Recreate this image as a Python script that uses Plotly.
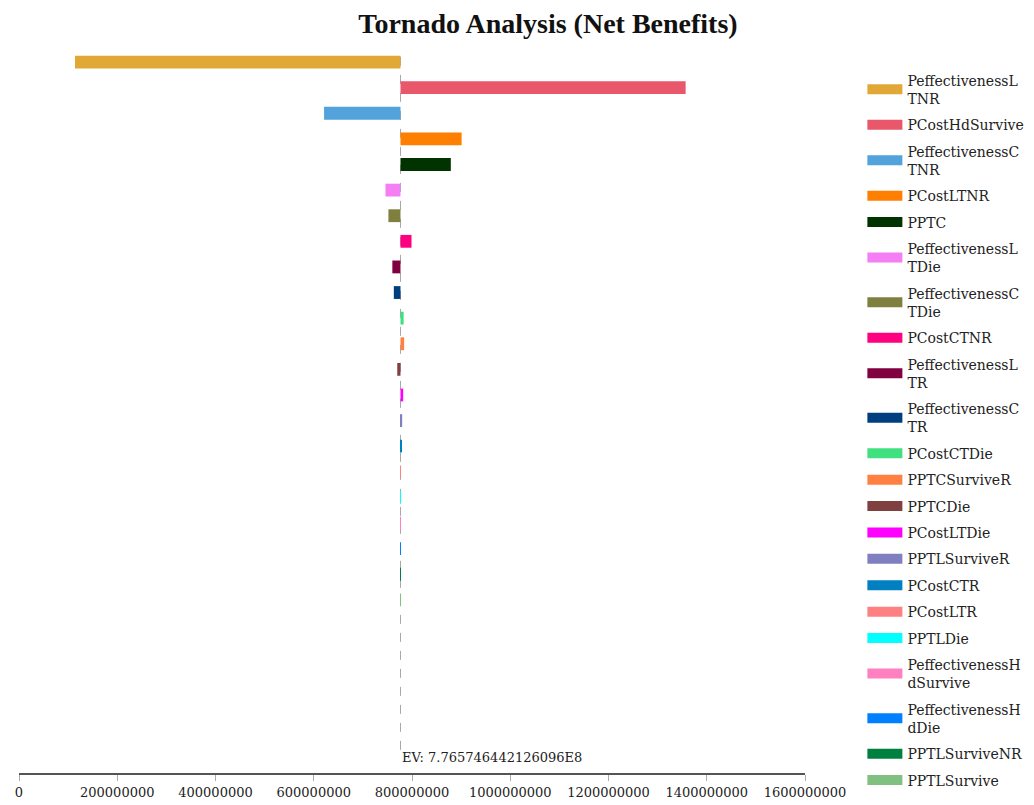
import plotly.graph_objects as go

# ---- data ----
variables = [
    "PeffectivenessLTNR", "PCostHdSurvive", "PeffectivenessCTNR", "PCostLTNR", "PPTC",
    "PeffectivenessLTDie", "PeffectivenessCTDie", "PCostCTNR", "PeffectivenessLTR",
    "PeffectivenessCTR", "PCostCTDie", "PPTCSurviveR", "PPTCDie", "PCostLTDie",
    "PPTLSurviveR", "PCostCTR", "PCostLTR", "PPTLDie", "PeffectivenessHdSurvive",
    "PeffectivenessHdDie", "PPTLSurviveNR", "PPTLSurvive",
]
ev = 7.765746442126096e8
low_values = [
    114e6, ev, 621e6, ev, ev, 746e6, 752e6, ev, 760e6, 763e6, ev, ev, 770e6, ev,
    ev, ev, ev, ev, ev, ev, ev, ev,
]
high_values = [
    ev, 1357e6, ev, 901e6, 879e6, ev, ev, 799e6, ev, ev, 783e6, 784e6, ev, 782e6,
    780e6, 778e6, 777.5e6, 777.3e6, 777.2e6, 777.1e6, 777.0e6, 776.9e6,
]
colors = [
    "#E2A835", "#E8576A", "#52A2DC", "#FF7F00", "#003300", "#F47FF4", "#7F7F3F",
    "#FF0080", "#800040", "#003F7F", "#40E080", "#FF8040", "#804040", "#FF00FF",
    "#8080C0", "#0080C0", "#FF8080", "#00FFFF", "#FF80C0", "#0080FF", "#008040",
    "#80C080",
]
x_ticks = [0, 200000000, 400000000, 600000000, 800000000, 1000000000,
           1200000000, 1400000000, 1600000000]


def wrap(name, n=15):
    parts = [name[i:i + n] for i in range(0, len(name), n)]
    return "<br>".join(parts)


fig = go.Figure()
for i, name in enumerate(variables):
    lo, hi = low_values[i], high_values[i]
    fig.add_trace(go.Bar(
        y=[name], x=[hi - lo], base=[lo], orientation="h",
        marker=dict(color=colors[i], line=dict(width=0)),
        width=0.5, showlegend=False, legendgroup=name, name=name,
    ))
    fig.add_trace(go.Scatter(
        x=[None], y=[None], mode="lines", name=wrap(name), legendgroup=name,
        line=dict(color=colors[i], width=13),
    ))

fig.add_shape(type="line", xref="x", x0=ev, x1=ev, yref="paper", y0=0.032, y1=1,
              line=dict(color="#A8A8A8", width=1, dash="dash"), layer="below")
fig.add_annotation(
    x=ev, xref="x", y=0.022, yref="paper", text=f"EV: {ev:.15E}".replace("E+0", "E"),
    showarrow=False, xanchor="left", yanchor="middle", xshift=0,
    font=dict(family="DejaVu Serif", size=13, color="#222"),
)

# page body has an 8px margin, so the figure is 8px smaller than the window
fig.update_layout(
    width=1026, height=797,
    paper_bgcolor="white", plot_bgcolor="white",
    margin=dict(l=11, r=229, t=42, b=32, autoexpand=False),
    title=dict(
        text="<b>Tornado Analysis (Net Benefits)</b>",
        x=0.673, xref="paper", xanchor="center",
        y=1 - 15 / 797, yref="container", yanchor="middle",
        font=dict(family="Liberation Serif", size=28, color="#111"),
    ),
    barmode="overlay",
    showlegend=True,
    legend=dict(
        x=1.073, xanchor="left", y=0.98, yanchor="top",
        font=dict(family="DejaVu Serif", size=14, color="#222"),
        tracegroupgap=5.2, itemwidth=35, bgcolor="rgba(0,0,0,0)",
        traceorder="grouped",
    ),
    xaxis=dict(
        range=[0, 1.6e9], tickvals=x_ticks, ticktext=[str(v) for v in x_ticks],
        showgrid=False, zeroline=False, showline=True, linecolor="#555",
        linewidth=2, ticks="outside", ticklen=6, tickcolor="#AAA", automargin=False,
        tickfont=dict(family="DejaVu Serif", size=13, color="#222"),
    ),
    yaxis=dict(
        type="category", categoryorder="array", categoryarray=variables,
        range=[27.76, -0.47], showticklabels=False, showgrid=False, automargin=False,
        zeroline=False, showline=False, ticks="",
    ),
)

fig.write_html("out.html")
